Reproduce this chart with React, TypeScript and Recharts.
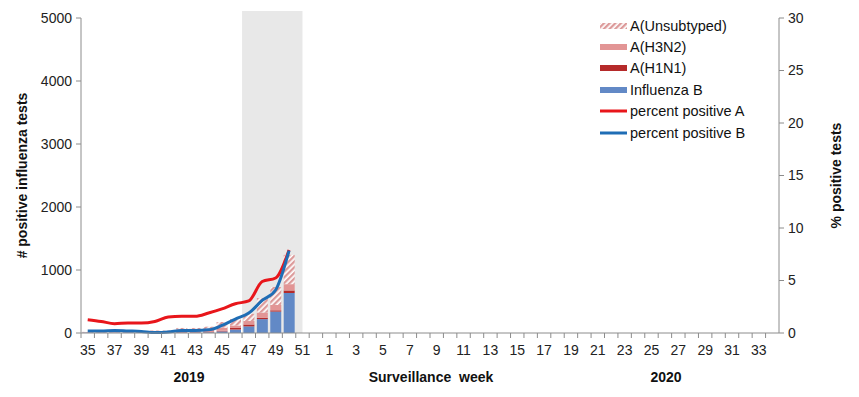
import { Bar, ComposedChart, Line, ReferenceArea, XAxis, YAxis } from "recharts";

// surveillance weeks 2019/35 .. 2020/34
const weeks = [
  "35", "36", "37", "38", "39", "40", "41", "42", "43", "44", "45", "46", "47", "48", "49", "50", "51", "52",
  "1", "2", "3", "4", "5", "6", "7", "8", "9", "10", "11", "12", "13", "14", "15", "16", "17", "18",
  "19", "20", "21", "22", "23", "24", "25", "26", "27", "28", "29", "30", "31", "32", "33", "34",
];

// counts reported so far (weeks 35..50)
const influenzaB = [8, 8, 10, 10, 8, 5, 5, 10, 10, 10, 25, 55, 105, 220, 340, 635];
const h1n1 = [0, 0, 0, 0, 0, 0, 0, 5, 5, 5, 10, 25, 30, 20, 20, 40];
const h3n2 = [5, 5, 5, 5, 5, 20, 25, 45, 45, 40, 50, 40, 55, 85, 85, 100];
const unsubtyped = [5, 5, 5, 5, 5, 15, 10, 20, 20, 45, 90, 100, 115, 230, 285, 465];

// percent positive
const pctA = [1.27, 1.1, 0.89, 0.95, 0.95, 1.1, 1.52, 1.59, 1.59, 1.9, 2.29, 2.79, 3.05, 4.9, 5.24, 7.9];
const pctB = [0.2, 0.2, 0.25, 0.2, 0.15, 0.05, 0.1, 0.25, 0.25, 0.3, 0.72, 1.33, 1.9, 3.1, 4.1, 7.85];

const leftTicks = [0, 1000, 2000, 3000, 4000, 5000];
const rightTicks = [0, 5, 10, 15, 20, 25, 30];

const data = weeks.map((week, i) => ({
  week,
  b: influenzaB[i] ?? null,
  h1n1: h1n1[i] ?? null,
  h3n2: h3n2[i] ?? null,
  unsub: unsubtyped[i] ?? null,
  pctA: pctA[i] ?? null,
  pctB: pctB[i] ?? null,
}));

const W = 859;
const H = 397;
const LEFT = 81;
const RIGHT = 80;
const TOP = 18;
const BOTTOM = 64;
const BAND = (W - LEFT - RIGHT) / weeks.length;
const AXIS = "#8c8c8c";
const FONT = "'Liberation Sans', Arial, sans-serif";

const C_B = "#6289c6";
const C_H1 = "#b52a2a";
const C_H3 = "#e29595";

const legendItems = [
  { label: "A(Unsubtyped)", kind: "hatch" },
  { label: "A(H3N2)", kind: "bar", color: C_H3 },
  { label: "A(H1N1)", kind: "bar", color: C_H1 },
  { label: "Influenza B", kind: "bar", color: C_B },
  { label: "percent positive A", kind: "line", color: "#e8161b" },
  { label: "percent positive B", kind: "line", color: "#1f6db5" },
];

const Hatch = ({ id }: { id: string }) => (
  <pattern id={id} width="4" height="4" patternUnits="userSpaceOnUse" patternTransform="rotate(45)">
    <rect width="4" height="4" fill="#ffffff" />
    <rect x="0" y="0" width="2.3" height="4" fill="#dc9a9a" />
  </pattern>
);

const WeekTick = (props: any) => {
  const { x, payload } = props;
  const index = props.index ?? payload.index;
  const y0 = H - BOTTOM;
  return (
    <g>
      <line x1={x - BAND / 2} x2={x - BAND / 2} y1={y0} y2={y0 + 5} stroke={AXIS} />
      {index % 2 === 0 && (
        <text x={x} y={y0 + 22} textAnchor="middle" fontSize={14} fill="#222" fontFamily={FONT}>
          {payload.value}
        </text>
      )}
    </g>
  );
};

const Shade = (props: any) => {
  const { x, y, width, height } = props;
  return <rect x={x} y={y - 7} width={width - BAND / 2} height={height + 7} fill="#e8e8e8" />;
};

const LegendBox = () => (
  <div style={{ position: "absolute", left: 599, top: 15, fontFamily: FONT, fontSize: 14.5, color: "#111" }}>
    {legendItems.map((it) => (
      <div key={it.label} style={{ display: "flex", alignItems: "center", height: 21.4 }}>
        <svg width={30} height={10} style={{ marginRight: 1 }}>
          <defs>
            <Hatch id="hatchL" />
          </defs>
          {it.kind === "hatch" && <rect x={1} y={2} width={27} height={6} fill="url(#hatchL)" />}
          {it.kind === "bar" && <rect x={1} y={2} width={27} height={6} fill={it.color} />}
          {it.kind === "line" && <line x1={1} x2={28} y1={5} y2={5} stroke={it.color} strokeWidth={3} />}
        </svg>
        <span>{it.label}</span>
      </div>
    ))}
  </div>
);

export default function App() {
  return (
    <div style={{ position: "absolute", left: 0, top: 0, width: W, height: H, background: "#fff" }}>
      <ComposedChart
        width={W}
        height={H}
        data={data}
        margin={{ top: TOP, right: 0, bottom: 0, left: 0 }}
        barCategoryGap="10%"
      >
        <defs>
          <Hatch id="hatch" />
        </defs>
        <ReferenceArea yAxisId="left" x1="47" x2="51" shape={<Shade />} ifOverflow="visible" />
        <XAxis
          dataKey="week"
          height={BOTTOM}
          interval={0}
          tickLine={false}
          tick={<WeekTick />}
          axisLine={{ stroke: AXIS }}
        />
        <YAxis
          yAxisId="left"
          width={LEFT}
          domain={[0, 5000]}
          ticks={leftTicks}
          tickSize={5}
          tickMargin={4}
          axisLine={{ stroke: AXIS }}
          tickLine={{ stroke: AXIS }}
          tick={{ fontSize: 14, fill: "#222", fontFamily: FONT }}
          label={{
            value: "# positive influenza tests",
            angle: -90,
            position: "insideLeft",
            offset: 22,
            style: { fontSize: 14, fontWeight: "bold", fill: "#111", fontFamily: FONT, textAnchor: "middle" },
          }}
        />
        <YAxis
          yAxisId="right"
          orientation="right"
          width={RIGHT}
          domain={[0, 30]}
          ticks={rightTicks}
          tickSize={5}
          tickMargin={4}
          axisLine={{ stroke: AXIS }}
          tickLine={{ stroke: AXIS }}
          tick={{ fontSize: 14, fill: "#222", fontFamily: FONT }}
          label={{
            value: "% positive tests",
            angle: -90,
            position: "insideRight",
            offset: 23,
            style: { fontSize: 14, fontWeight: "bold", fill: "#111", fontFamily: FONT, textAnchor: "middle" },
          }}
        />
        <Bar yAxisId="left" dataKey="b" stackId="s" fill={C_B} name="Influenza B" isAnimationActive={false} />
        <Bar yAxisId="left" dataKey="h1n1" stackId="s" fill={C_H1} name="A(H1N1)" isAnimationActive={false} />
        <Bar yAxisId="left" dataKey="h3n2" stackId="s" fill={C_H3} name="A(H3N2)" isAnimationActive={false} />
        <Bar yAxisId="left" dataKey="unsub" stackId="s" fill="url(#hatch)" name="A(Unsubtyped)" isAnimationActive={false} />
        <Line
          yAxisId="right"
          dataKey="pctA"
          type="monotone"
          stroke="#e8161b"
          strokeWidth={3}
          dot={false}
          name="percent positive A"
          isAnimationActive={false}
        />
        <Line
          yAxisId="right"
          dataKey="pctB"
          type="monotone"
          stroke="#1f6db5"
          strokeWidth={3}
          dot={false}
          name="percent positive B"
          isAnimationActive={false}
        />
      </ComposedChart>
      <LegendBox />
      <div
        style={{
          position: "absolute",
          top: 369,
          left: 0,
          width: W,
          fontFamily: FONT,
          fontSize: 14,
          fontWeight: "bold",
          color: "#111",
        }}
      >
        <span style={{ position: "absolute", left: 189, transform: "translateX(-50%)" }}>2019</span>
        <span style={{ position: "absolute", left: 431, transform: "translateX(-50%)", whiteSpace: "pre" }}>
          Surveillance  week
        </span>
        <span style={{ position: "absolute", left: 666, transform: "translateX(-50%)" }}>2020</span>
      </div>
    </div>
  );
}
